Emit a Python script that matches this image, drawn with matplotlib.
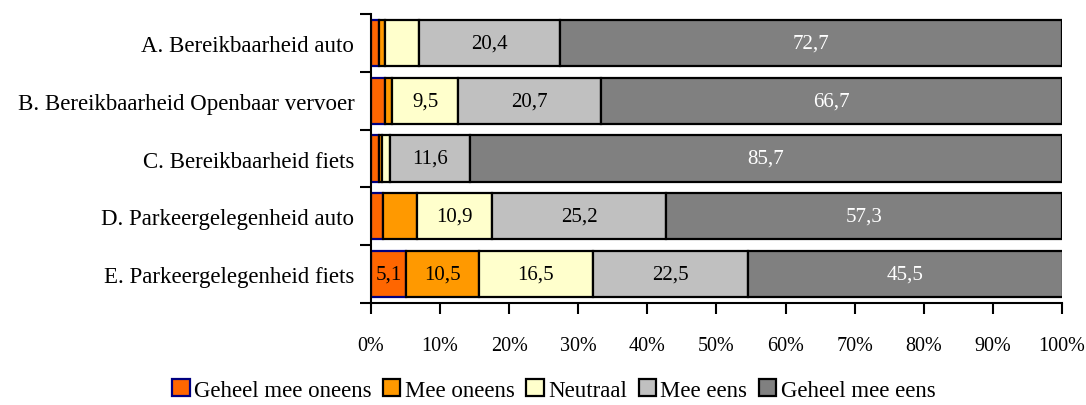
import numpy as np
import matplotlib
matplotlib.use('Agg')
import matplotlib.pyplot as plt
from matplotlib.patches import Patch

plt.rcParams['font.family'] = ['Liberation Serif', 'DejaVu Serif']

# Stellingen en antwoordcategorieen
categories = ['A. Bereikbaarheid auto',
              'B. Bereikbaarheid Openbaar vervoer',
              'C. Bereikbaarheid fiets',
              'D. Parkeergelegenheid auto',
              'E. Parkeergelegenheid fiets']
series_names = ['Geheel mee oneens', 'Mee oneens', 'Neutraal', 'Mee eens', 'Geheel mee eens']

# Percentages per stelling (A t/m E)
geheel_oneens = [1.2, 2.1, 1.1, 1.8, 5.1]
mee_oneens = [0.9, 1.0, 0.5, 4.8, 10.5]
neutraal = [4.8, 9.5, 1.1, 10.9, 16.5]
mee_eens = [20.4, 20.7, 11.6, 25.2, 22.5]
geheel_eens = [72.7, 66.7, 85.7, 57.3, 45.5]

xticks = [0, 10, 20, 30, 40, 50, 60, 70, 80, 90, 100]
xtick_labels = [f'{t}%' for t in xticks]

colors = ['#FF6600', '#FF9900', '#FFFFCC', '#C0C0C0', '#808080']
edges = ['#000080', 'black', 'black', 'black', 'black']
text_colors = ['black', 'black', 'black', 'black', 'white']

data = [geheel_oneens, mee_oneens, neutraal, mee_eens, geheel_eens]

fig = plt.figure(figsize=(10.86, 4.06), dpi=100)
ax = fig.add_axes([0.3416, 0.2512, 0.6363, 0.7118])

y = np.arange(len(categories))
left = np.zeros(len(categories))
for vals, name, c, ec, tc in zip(data, series_names, colors, edges, text_colors):
    vals = np.array(vals)
    ax.barh(y, vals, left=left, height=0.8, color=c, edgecolor=ec, linewidth=1.6, label=name)
    for yi, v, l in zip(y, vals, left):
        if v >= 5:
            ax.text(l + v / 2, yi, f'{v:.1f}'.replace('.', ','), ha='center', va='center',
                    fontsize=15, color=tc)
    left += vals

ax.set_xlim(0, 100)
ax.set_ylim(len(categories) - 0.5, -0.5)
ax.set_xticks(xticks)
ax.set_xticklabels(xtick_labels, fontsize=14.5)
ax.set_yticks(y)
ax.set_yticklabels(categories, fontsize=16.5)
ax.tick_params(axis='y', length=0, pad=12)
ax.set_yticks(np.arange(-0.5, len(categories)), minor=True)
ax.tick_params(axis='y', which='minor', length=8, width=1.5, direction='out')
ax.tick_params(axis='x', length=8, width=1.5, direction='out', pad=16)
ax.spines['top'].set_visible(False)
ax.spines['right'].set_visible(False)
ax.spines['left'].set_linewidth(1.5)
ax.spines['bottom'].set_linewidth(1.5)

handles = [Patch(facecolor=c, edgecolor=ec, linewidth=1.6, label=n)
           for c, ec, n in zip(colors, edges, series_names)]
fig.legend(handles=handles, loc='lower center', bbox_to_anchor=(0.51, -0.04), ncol=5,
           frameon=False, fontsize=16.5, handlelength=0.75, handleheight=0.75,
           handletextpad=0.2, columnspacing=0.5)

fig.savefig('out.png', dpi=100)
